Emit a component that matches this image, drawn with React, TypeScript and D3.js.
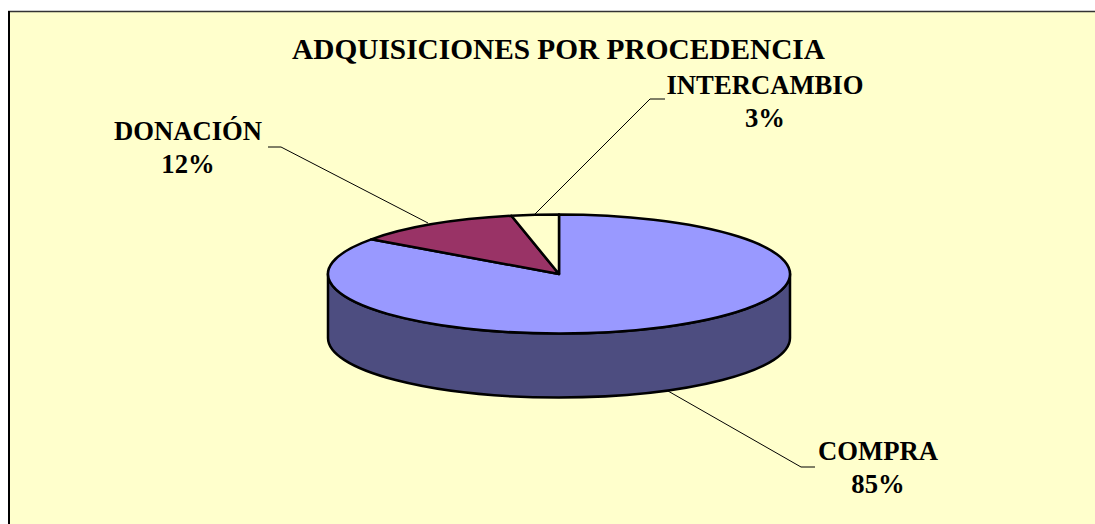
import * as d3 from 'd3';

const categories = ['COMPRA', 'DONACIÓN', 'INTERCAMBIO'];
// the labels show them rounded
const shares = [84.9, 11.8, 3.3];
const sliceColors = ['#9999ff', '#993366', '#ffffcc'];

const width = 1095;
const height = 524;
const cx = 559;
const cy = 274;
const rx = 231;
const ry = 59.5;
const depth = 64;

// label placement, same order as categories
const labelX = [878, 188, 765];
const labelY = [460, 140, 94];
const leaders = [
  [[815, 467], [801, 467], [668, 391]],
  [[268, 147], [281, 147], [428, 223]],
  [[665, 99], [650, 99], [535, 214]],
];

// squashed circle, angle 0 at 12 o'clock going clockwise
const pt = (a: number) => [cx + rx * Math.sin(a), cy - ry * Math.cos(a)];

const slicePath = (a0: number, a1: number) => {
  const [x0, y0] = pt(a0);
  const [x1, y1] = pt(a1);
  const large = a1 - a0 > Math.PI ? 1 : 0;
  return `M${cx},${cy}L${x0},${y0}A${rx},${ry} 0 ${large} 1 ${x1},${y1}Z`;
};

const wallPath = () => {
  const [xr, yr] = pt(Math.PI / 2);
  const [xl, yl] = pt((3 * Math.PI) / 2);
  return `M${xr},${yr}A${rx},${ry} 0 0 1 ${xl},${yl}L${xl},${yl + depth}A${rx},${ry} 0 0 0 ${xr},${yr + depth}Z`;
};

export default function App() {
  const arcs = d3.pie<number>().sort(null)(shares);
  const leader = d3.line();

  return (
    <svg
      width={width}
      height={height}
      style={{ position: 'absolute', left: 0, top: 0, display: 'block' }}
      fontFamily="'Liberation Serif', serif"
      fontWeight="bold"
      fontSize={26.67}
    >
      <rect width={width} height={height} fill="#fff" />
      <rect x={8} y={11} width={width} height={height} fill="#ffffcc" />
      <line x1={8} x2={width} y1={11.5} y2={11.5} stroke="#333" strokeWidth={1.5} />
      <line x1={9} x2={9} y1={11} y2={height} stroke="#000" strokeWidth={2} />

      <text x={558.5} y={59} textAnchor="middle" fontSize={29.33}>ADQUISICIONES POR PROCEDENCIA</text>

      {leaders.map((l, i) => (
        <path key={i} d={leader(l as [number, number][]) ?? ''} fill="none" stroke="#000" strokeWidth={1} />
      ))}

      <path d={wallPath()} fill="#4d4d80" stroke="#000" strokeWidth={2.5} strokeLinejoin="round" />
      {arcs.map((d, i) => (
        <path
          key={i}
          d={slicePath(d.startAngle, d.endAngle)}
          fill={sliceColors[i]}
          stroke="#000"
          strokeWidth={2.5}
          strokeLinejoin="round"
        />
      ))}

      {categories.map((c, i) => (
        <text key={c} x={labelX[i]} y={labelY[i]} textAnchor="middle">
          <tspan x={labelX[i]}>{c}</tspan>
          <tspan x={labelX[i]} dy={33}>{Math.round(shares[i])}%</tspan>
        </text>
      ))}
    </svg>
  );
}
